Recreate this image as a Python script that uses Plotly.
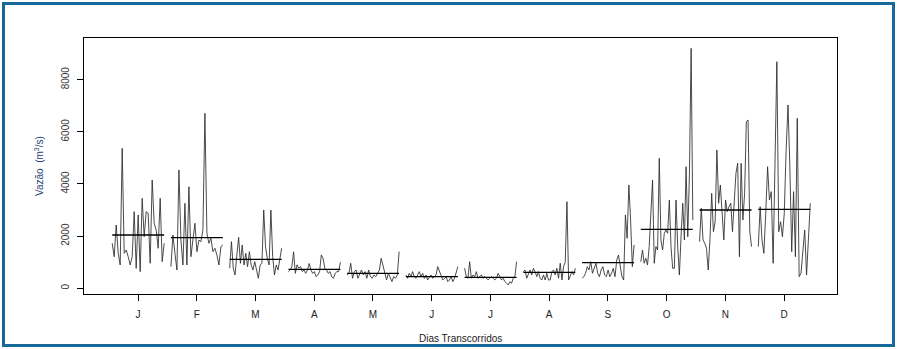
import plotly.graph_objects as go

months = ["J", "F", "M", "A", "M", "J", "J", "A", "S", "O", "N", "D"]

jan = [1726, 1212, 2427, 1342, 894, 5369, 1342, 1469, 1212, 894, 1212, 2938, 767, 2811,
       637, 3452, 1979, 2938, 2876, 959, 4153, 2493, 2236, 1534, 3452, 1020, 1726]
feb = [830, 2044, 1342, 702, 4537, 1852, 894, 3260, 894, 3896, 1212, 1852, 2493, 1405,
       1852, 1789, 2236, 6711, 2109, 1726, 1917, 1405, 1534, 1277, 894, 1597, 1662]
mar = [767, 1789, 767, 510, 1277, 1955, 959, 1661, 894, 1342, 830, 1405, 894, 702, 1020,
       637, 384, 894, 959, 3003, 1597, 1150, 894, 3003, 1212, 510, 894, 702, 1150, 1534]
apr = [637, 702, 830, 1400, 575, 900, 767, 830, 640, 700, 575, 700, 950, 700, 575, 640,
       445, 510, 640, 1280, 1150, 767, 700, 575, 640, 445, 384, 575, 640, 640, 1000]
may = [511, 575, 959, 384, 639, 703, 384, 575, 703, 511, 639, 384, 703, 447, 384, 511,
       447, 575, 703, 1150, 831, 511, 320, 575, 384, 255, 447, 384, 511, 1405]
jun = [511, 384, 575, 447, 639, 447, 384, 511, 639, 447, 575, 384, 511, 320, 447, 511,
       384, 447, 511, 831, 639, 447, 320, 384, 447, 255, 320, 447, 255, 384, 575, 831]
jul = [767, 447, 384, 1020, 384, 511, 447, 639, 384, 447, 511, 384, 447, 384, 320, 384,
       447, 384, 320, 384, 575, 447, 320, 384, 255, 192, 128, 255, 192, 384, 447, 1020]
aug = [637, 700, 384, 575, 700, 511, 767, 640, 447, 640, 384, 318, 511, 318, 575, 318,
       320, 640, 700, 511, 767, 384, 960, 320, 830, 1020, 3322, 320, 511, 640, 511, 767]
sep = [384, 445, 575, 830, 702, 1020, 575, 767, 959, 575, 445, 702, 830, 510, 445, 702,
       445, 575, 767, 445, 1085, 1277, 894, 445, 318, 2811, 1917, 3962, 2619, 830, 1661]
oct_ = [1020, 1469, 959, 1150, 894, 1597, 2876, 4153, 959, 1597, 1469, 4985, 1852, 1469,
        2109, 2236, 2109, 3386, 1597, 767, 767, 3386, 1597, 510, 1979, 3260, 1852, 4663,
        1979, 4410, 9204, 2619]
nov = [1789, 3068, 1852, 1726, 1534, 702, 1852, 3643, 2171, 2555, 5304, 3260, 3962, 2876,
       1852, 3386, 2938, 3129, 3260, 2171, 3386, 4410, 4794, 1212, 4794, 2619, 3643, 6389,
       6454, 2171, 1597]
dec = [1597, 3129, 1852, 1342, 2876, 4663, 3386, 3706, 959, 5177, 8690, 2171, 2555, 1979,
       2876, 5304, 7030, 4663, 1405, 3706, 1212, 6520, 445, 575, 1597, 2236, 510, 1852, 3260]

monthly_means = [2044, 1941, 1112, 728, 575, 445, 422, 614, 982, 2262, 3003, 3030]

y_ticks = [0, 2000, 4000, 6000, 8000]

series = [jan, feb, mar, apr, may, jun, jul, aug, sep, oct_, nov, dec]

fig = go.Figure()
SPAN = 0.885
for m, vals in enumerate(series, start=1):
    n = len(vals)
    x0 = m - 0.44
    xs = [x0 + i * SPAN / (n - 1) for i in range(n)]
    fig.add_trace(go.Scatter(x=xs, y=vals, mode="lines",
                             line=dict(color="#2a2a2a", width=0.85),
                             hoverinfo="skip", showlegend=False))
    mu = monthly_means[m - 1]
    fig.add_trace(go.Scatter(x=[xs[0], xs[-1]], y=[mu, mu], mode="lines",
                             line=dict(color="black", width=1.3),
                             hoverinfo="skip", showlegend=False))

L, R, T, B = 84, 837, 38, 294
W, H = 897, 349

fig.update_layout(
    width=W, height=H,
    margin=dict(l=L, r=W - R, t=T, b=H - B, pad=0),
    paper_bgcolor="white", plot_bgcolor="white",
    font=dict(family="Liberation Sans, Arial, sans-serif", size=10, color="#222"),
    xaxis=dict(range=[0.08, 12.9], tickmode="array", tickvals=list(range(1, 13)),
               ticktext=months, showgrid=False, zeroline=False,
               showline=True, mirror=True, linecolor="black", linewidth=1,
               ticks="outside", ticklen=6, tickcolor="black", tickwidth=1,
               ticklabelstandoff=5, tickfont=dict(size=10, color="#222")),
    yaxis=dict(range=[-219, 9599], tickmode="array", tickvals=y_ticks,
               ticktext=[str(v) for v in y_ticks], showgrid=False, zeroline=False,
               showline=True, mirror=True, linecolor="black", linewidth=1,
               ticks="outside", ticklen=6, tickcolor="black", tickwidth=1,
               tickangle=-90, ticklabelstandoff=4,
               tickfont=dict(size=10, color="#333")),
)

pw, ph = R - L, B - T
def px_x(p):
    return (p - L) / pw
def px_y(p):
    return (B - p) / ph

fig.add_shape(type="rect", xref="paper", yref="paper",
              x0=px_x(3.5), x1=px_x(893.5), y0=px_y(345.5), y1=px_y(3.5),
              line=dict(color="#17699b", width=3), fillcolor="rgba(0,0,0,0)")

fig.add_annotation(text="Dias Transcorridos", xref="paper", yref="paper",
                   x=0.5, y=px_y(338), showarrow=False, xanchor="center", yanchor="middle",
                   font=dict(size=10, color="#222"))
fig.add_annotation(text="Vazão  (m<sup>3</sup>/s)", xref="paper", yref="paper",
                   x=px_x(39), y=px_y(166), showarrow=False, textangle=-90,
                   xanchor="center", yanchor="middle",
                   font=dict(size=10, color="#1f3f7a"))

fig.write_html("out.html",
               config={"displayModeBar": False, "staticPlot": True},
               post_script="document.body.style.margin='0';document.body.style.overflow='hidden';")
